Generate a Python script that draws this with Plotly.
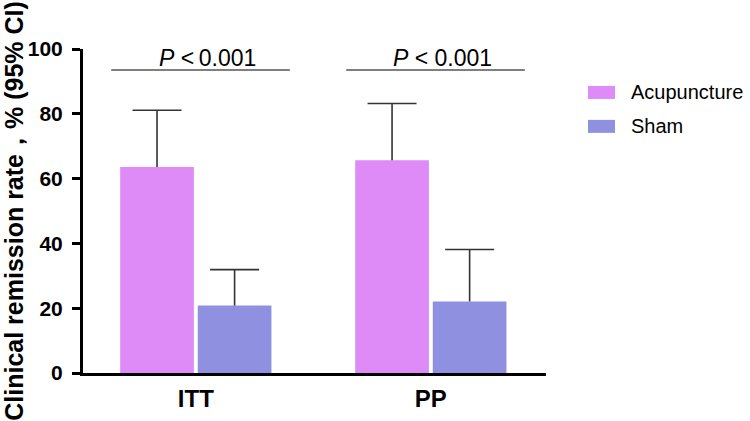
import plotly.graph_objects as go

# data
groups = ["ITT", "PP"]
series_names = ["Acupuncture", "Sham"]
acupuncture = [63.6, 65.7]
acupuncture_upper = [81.1, 83.2]
sham = [20.8, 22.1]
sham_upper = [31.9, 38.1]
p_labels = ["<i>P</i> <\u20090.001", "<i>P</i> < 0.001"]
p_line_y = [93.5, 93.5]
y_ticks = [0, 20, 40, 60, 80, 100]

COLORS = ["#DE8AF7", "#8F90E0"]
FONT = "Arial, Liberation Sans, sans-serif"

# plot area in pixels (used for the hand drawn legend)
L, R, T, B = 83, 546, 49, 373.5


def px_x(px):
    return (px - L) / (R - L)


def px_y(py):
    return (B - py) / (B - T)


fig = go.Figure()

for k, (name, vals, upper, color) in enumerate(
    zip(series_names, [acupuncture, sham], [acupuncture_upper, sham_upper], COLORS)
):
    fig.add_trace(
        go.Bar(
            x=groups,
            y=vals,
            name=name,
            offsetgroup=str(k),
            marker_color=color,
            marker_line_width=0,
            showlegend=False,
        )
    )
    # upper CI only: cap as a marker, stem as a one sided error bar
    fig.add_trace(
        go.Scatter(
            x=groups,
            y=upper,
            mode="markers",
            offsetgroup=str(k),
            showlegend=False,
            hoverinfo="skip",
            marker=dict(
                symbol="line-ew",
                size=35,
                color="#333333",
                line=dict(width=1.6, color="#333333"),
            ),
            error_y=dict(
                type="data",
                symmetric=False,
                array=[0] * len(vals),
                arrayminus=[u - v for u, v in zip(upper, vals)],
                color="#333333",
                thickness=1.6,
                width=0,
            ),
        )
    )

# significance brackets
for i, (label, py) in enumerate(zip(p_labels, p_line_y)):
    fig.add_shape(
        type="line",
        xref="x",
        yref="y",
        x0=i - 0.36,
        x1=i + 0.40,
        y0=py,
        y1=py,
        line=dict(color="#555555", width=1.6),
    )
    fig.add_annotation(
        x=i + 0.05,
        y=py,
        xref="x",
        yref="y",
        text=label,
        showarrow=False,
        yanchor="bottom",
        yshift=-3,
        font=dict(family=FONT, size=23, color="black"),
    )

# legend drawn by hand so the swatches are wide like the original
for k, (name, color) in enumerate(zip(series_names, COLORS)):
    top = 86 + k * 34
    fig.add_shape(
        type="rect",
        xref="paper",
        yref="paper",
        x0=px_x(588),
        x1=px_x(615),
        y0=px_y(top + 13),
        y1=px_y(top),
        fillcolor=color,
        line_width=0,
    )
    fig.add_annotation(
        xref="paper",
        yref="paper",
        x=px_x(629),
        y=px_y(top + 6.5),
        text=name,
        showarrow=False,
        xanchor="left",
        yanchor="middle",
        font=dict(family=FONT, size=20, color="black"),
    )

fig.update_layout(
    width=750,
    height=421,
    margin=dict(l=L, r=750 - R, t=T, b=421 - B, autoexpand=False),
    plot_bgcolor="white",
    paper_bgcolor="white",
    barmode="group",
    bargap=0.34,
    bargroupgap=0.05,
    scattermode="group",
    scattergap=0.34,
    font=dict(family=FONT, color="black"),
)

fig.update_xaxes(
    type="category",
    range=[-0.48, 1.49],
    showline=True,
    linecolor="black",
    linewidth=3,
    ticks="",
    showgrid=False,
    ticklabelstandoff=2,
    tickfont=dict(family=FONT, size=24, color="black", weight="bold"),
)

fig.update_yaxes(
    range=[0, 100],
    tickvals=y_ticks,
    showline=True,
    linecolor="black",
    linewidth=3,
    ticks="outside",
    ticklen=8,
    tickwidth=3,
    tickcolor="black",
    showgrid=False,
    zeroline=False,
    ticklabelstandoff=5,
    tickfont=dict(family=FONT, size=21, color="black", weight="bold"),
    title=dict(
        text="Clinical remission rate\uff0c% (95% CI)",
        font=dict(family=FONT, size=25, color="black", weight="bold"),
        standoff=2,
    ),
)

# the page body has a default 8px margin; drop it so the figure sits at 0,0
fig.write_html(
    "out.html",
    config={"displayModeBar": False},
    post_script="document.body.style.margin = '0';",
)
